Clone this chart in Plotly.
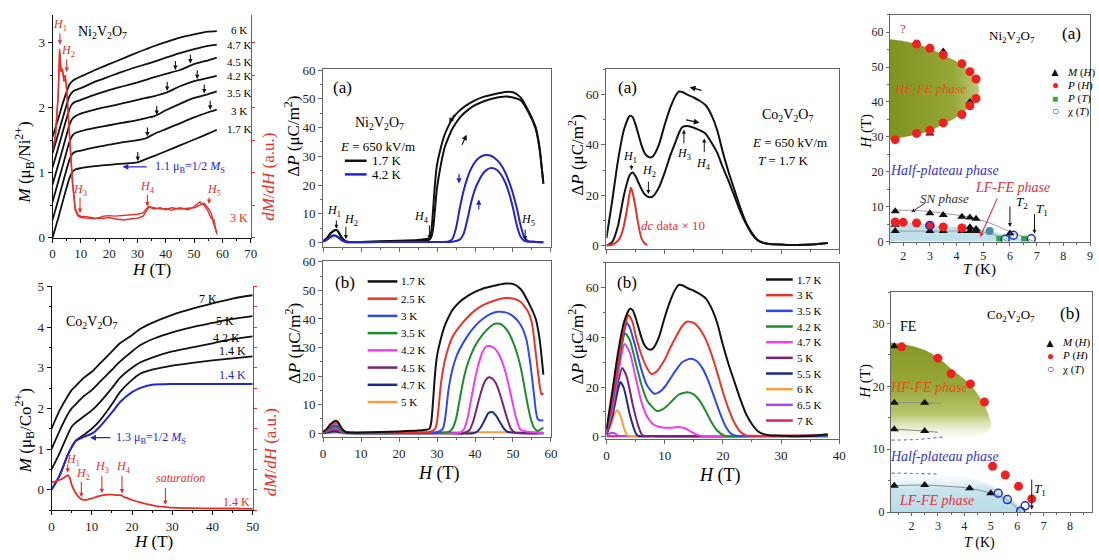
import plotly.graph_objects as go

W, HH = 1099, 560
FONT = "Liberation Serif"
RED = "#e5302a"
BLUE = "#2b2fc8"

# ====================== DATA ======================
# --- Ni2V2O7 M(H) ---
NI_M_H = [0, 2, 4, 6, 7, 8, 10, 15, 20, 25, 30, 33, 36, 40, 45, 50, 55, 58]
NI_M_17 = [0.00, 0.30, 0.62, 0.92, 1.01, 1.05, 1.07, 1.10, 1.12, 1.14, 1.16, 1.21, 1.26, 1.33, 1.42, 1.51, 1.60, 1.66]
NI_M_30 = [0.27, 0.58, 0.90, 1.20, 1.29, 1.32, 1.34, 1.39, 1.43, 1.47, 1.50, 1.53, 1.60, 1.67, 1.76, 1.85, 1.93, 1.97]
NI_M_35 = [0.55, 0.86, 1.17, 1.48, 1.57, 1.61, 1.64, 1.69, 1.73, 1.77, 1.81, 1.84, 1.87, 1.96, 2.06, 2.15, 2.21, 2.25]
NI_M_42 = [0.82, 1.12, 1.43, 1.74, 1.83, 1.87, 1.91, 1.97, 2.02, 2.07, 2.12, 2.15, 2.18, 2.23, 2.33, 2.41, 2.46, 2.49]
NI_M_45 = [1.08, 1.38, 1.69, 1.98, 2.06, 2.09, 2.12, 2.20, 2.27, 2.33, 2.39, 2.43, 2.47, 2.52, 2.58, 2.67, 2.73, 2.77]
NI_M_47 = [1.30, 1.60, 1.90, 2.18, 2.24, 2.27, 2.30, 2.40, 2.48, 2.56, 2.63, 2.67, 2.71, 2.77, 2.84, 2.90, 2.95, 2.97]
NI_M_60 = [1.55, 1.83, 2.12, 2.36, 2.41, 2.44, 2.48, 2.58, 2.67, 2.76, 2.85, 2.90, 2.95, 3.01, 3.08, 3.13, 3.17, 3.18]
NI_M_CURVES = [NI_M_17, NI_M_30, NI_M_35, NI_M_42, NI_M_45, NI_M_47, NI_M_60]
NI_M_LABELS = ["1.7 K", "3 K", "3.5 K", "4.2 K", "4.5 K", "4.7 K", "6 K"]
NI_M_LABEL_Y = [1.67, 1.95, 2.22, 2.49, 2.71, 2.97, 3.19]
NI_M_ARROW_H = [30.1, 33.5, 55.7, 36.8, 53.6, 40.5, 51.1, 43.4, 48.7]
NI_M_ARROW_M = [1.18, 1.56, 1.97, 1.89, 2.22, 2.26, 2.44, 2.58, 2.68]

NI_DMDH_H = [0, 1, 2, 2.5, 3, 3.5, 4, 4.5, 5, 5.5, 6, 7, 8, 9, 10, 12, 15, 18, 20, 22, 25, 28, 30, 32, 33, 34,
             36, 38, 40, 42, 45, 48, 50, 52, 53.5, 55, 56, 57, 58]
NI_DMDH_UP = [1.35, 1.55, 2.2, 2.9, 2.55, 2.6, 2.45, 2.5, 2.3, 2.0, 1.6, 0.9, 0.45, 0.35, 0.33, 0.32, 0.30, 0.30,
              0.31, 0.29, 0.27, 0.29, 0.30, 0.33, 0.40, 0.47, 0.44, 0.46, 0.43, 0.46, 0.44, 0.45, 0.46, 0.50, 0.53,
              0.45, 0.38, 0.20, 0.08]
NI_DMDH_DN = [1.35, 1.55, 2.2, 2.85, 2.6, 2.55, 2.4, 2.45, 2.25, 1.95, 1.55, 0.85, 0.42, 0.33, 0.31, 0.30, 0.29,
              0.33, 0.34, 0.33, 0.34, 0.35, 0.36, 0.38, 0.44, 0.48, 0.46, 0.44, 0.45, 0.42, 0.46, 0.43, 0.48, 0.55,
              0.50, 0.40, 0.30, 0.28, 0.05]

# --- Co2V2O7 M(H) ---
CO_M_H = [0, 2, 4, 5, 6, 8, 10, 12, 15, 17, 20, 22, 25, 30, 35, 40, 45, 50]
CO_M_14_BLUE = [0.0, 0.35, 0.85, 1.05, 1.2, 1.3, 1.38, 1.55, 1.9, 2.15, 2.4, 2.5, 2.58, 2.6, 2.6, 2.6, 2.6, 2.6]
CO_M_14 = [0.0, 0.35, 0.85, 1.05, 1.2, 1.35, 1.5, 1.7, 2.1, 2.4, 2.7, 2.85, 2.95, 3.05, 3.12, 3.18, 3.23, 3.28]
CO_M_42 = [0.5, 0.9, 1.35, 1.55, 1.65, 1.8, 1.95, 2.15, 2.5, 2.75, 3.0, 3.13, 3.25, 3.4, 3.5, 3.6, 3.7, 3.77]
CO_M_50 = [1.0, 1.45, 1.85, 2.0, 2.1, 2.3, 2.45, 2.65, 2.95, 3.15, 3.4, 3.55, 3.7, 3.87, 4.0, 4.1, 4.2, 4.27]
CO_M_70 = [1.5, 1.95, 2.3, 2.45, 2.55, 2.75, 2.9, 3.1, 3.4, 3.6, 3.8, 3.95, 4.1, 4.3, 4.45, 4.58, 4.7, 4.78]
CO_DMDH_H = [0, 2, 3, 4, 4.5, 5, 6, 7, 8, 9, 10, 11, 12, 13, 14, 15, 16, 17, 17.5, 18, 19, 20, 22, 24, 26, 28,
             30, 35, 40, 45, 50]
CO_DMDH = [0.18, 0.24, 0.29, 0.36, 0.30, 0.12, -0.08, -0.20, -0.25, -0.24, -0.21, -0.18, -0.15, -0.13, -0.12,
           -0.12, -0.13, -0.13, -0.14, -0.18, -0.21, -0.25, -0.31, -0.36, -0.40, -0.42, -0.44, -0.45, -0.46,
           -0.46, -0.47]

# --- Ni2V2O7 dP(H) (a) ---
NI_A_17_H = [0, 1, 2, 3, 3.5, 4, 5, 6, 8, 10, 15, 20, 25, 27, 28, 28.5, 29, 29.5, 30, 31, 32, 33, 34, 36, 38,
             40, 42, 45, 48, 50, 52, 54, 56, 57, 58]
NI_A_17_UP = [0.5, 1.5, 3.2, 4.2, 4.3, 3.8, 1.5, 0.4, 0.2, 0.2, 0.3, 0.4, 0.6, 0.8, 1.0, 2.0, 5, 12, 19, 27, 33,
              36.5, 39.5, 43.5, 46, 47.8, 49, 50.2, 50.8, 50.5, 49.5, 45.5, 39.5, 32.5, 20.5]
NI_A_17_DN = [0.5, 1.5, 3.2, 4.2, 4.3, 3.8, 1.5, 0.4, 0.2, 0.2, 0.4, 0.6, 0.9, 1.2, 1.5, 4, 12, 21, 27, 33, 37.5,
              40.5, 43, 46, 48, 49.5, 50.6, 51.6, 52.4, 52.3, 50.5, 46, 40, 33, 20.5]
NI_A_42_H = [0, 1, 2, 3, 4, 5, 6, 10, 20, 30, 33, 34, 35, 36, 37, 38, 39, 40, 41, 42, 43, 44, 45, 46, 47, 48,
             49, 50, 51, 52, 53, 54, 56, 58]
NI_A_42_UP = [0.3, 1, 2, 2.4, 1.8, 0.7, 0.2, 0.1, 0.2, 0.2, 0.2, 0.3, 0.5, 1, 3, 8, 14, 18.5, 21.5, 23.8, 25.2,
              25.9, 25.8, 25, 23.3, 20.8, 17, 12, 6, 2, 0.6, 0.3, 0.2, 0.1]
NI_A_42_DN = [0.3, 1, 2, 2.4, 1.8, 0.7, 0.2, 0.1, 0.2, 0.2, 0.4, 1.2, 5, 12, 18, 22.5, 25.8, 28, 29.4, 30.2,
              30.5, 30.3, 29.6, 28.4, 26.7, 24.3, 21, 17, 12, 6, 1.8, 0.5, 0.2, 0.1]

# --- Ni2V2O7 dP(H) (b) ---
NI_B_17_H = NI_A_17_H
NI_B_17 = NI_A_17_DN
NI_B_25_H = [0, 1, 2, 3, 3.5, 4, 5, 6, 10, 20, 28, 29.5, 30, 30.5, 31, 32, 33, 34, 36, 38, 40, 42, 45, 48, 50,
             52, 54, 55, 56, 57, 57.5, 58]
NI_B_25 = [0.3, 1.2, 2.6, 3.5, 3.6, 3.1, 1.4, 0.3, 0.1, 0.2, 0.4, 1.5, 4, 10, 17, 25, 30, 33.5, 37.5, 40.5, 43,
           44.8, 46.4, 47.3, 47.2, 46, 42.5, 38.5, 28, 17, 13.5, 14]
NI_B_30_H = [0, 1, 2, 3, 4, 5, 6, 10, 20, 30, 31.5, 32, 32.5, 33, 34, 35, 36, 38, 40, 42, 44, 46, 48, 50, 52,
             53.5, 54.5, 55.5, 56, 56.5, 57, 58]
NI_B_30 = [0.3, 1, 2, 2.8, 2.4, 1, 0.2, 0, 0.1, 0.3, 1.5, 4, 9, 15, 22, 26.5, 29.5, 34, 37.5, 40, 41.7, 42.5,
           42.3, 41, 38, 33, 25, 14, 8, 5, 4.5, 4.5]
NI_B_35_H = [0, 1, 2, 3, 4, 5, 6, 10, 20, 30, 33, 34, 35, 36, 37, 38, 40, 42, 44, 45.5, 47, 48.5, 50, 51.5,
             52.5, 53.5, 54.5, 55.5, 56.5, 57.5, 58]
NI_B_35 = [0.2, 0.8, 1.6, 2.2, 1.8, 0.7, 0.1, 0, 0, 0.1, 0.4, 1.5, 5, 12, 19, 24, 30.5, 34.5, 37.3, 38.4, 38,
           36, 32, 26, 20, 12.5, 6, 2, 0.8, 1.5, 2]
NI_B_42_H = [0, 1, 2, 3, 4, 5, 6, 10, 20, 30, 36, 37, 38, 39, 40, 41, 42, 43, 44, 45, 46, 47, 48, 49, 50, 51,
             52, 58]
NI_B_42 = [0.2, 0.7, 1.3, 1.7, 1.3, 0.5, 0.1, 0, 0, 0, 0.2, 1.2, 5, 12, 19, 24.5, 28.5, 30.4, 30.5, 29.8, 28.3,
           25.5, 21.5, 16, 10, 4.5, 1.2, 0]
NI_B_45_H = [0, 1, 2, 3, 4, 5, 6, 10, 30, 37, 38.5, 39.5, 40.5, 41.5, 42.5, 43.5, 44.5, 45.5, 46.5, 47.5, 48.5,
             49.5, 50.5, 58]
NI_B_45 = [0.1, 0.5, 0.9, 1.2, 0.9, 0.3, 0, 0, 0, 0, 1, 4, 9, 14, 17.8, 19.5, 19.2, 17.5, 14, 9.5, 5, 1.5, 0.2, 0]
NI_B_47_H = [0, 2, 3, 4, 6, 10, 30, 39.5, 40.5, 41.5, 42.5, 43.5, 44.5, 45.5, 46.5, 47.5, 48.5, 58]
NI_B_47 = [0, 0.4, 0.6, 0.4, 0, 0, 0, 0, 0.5, 2, 4.5, 7, 7.4, 6.2, 4, 1.8, 0.5, 0]
NI_B_50_H = [0, 10, 20, 30, 40, 50, 58]
NI_B_50 = [0.1, 0.3, 0.3, 0.4, 0.3, 0.3, 0.3]
NI_B_LABELS = ["1.7 K", "2.5 K", "3 K", "3.5 K", "4.2 K", "4.5 K", "4.7 K", "5 K"]
NI_B_COLORS = ["#111111", "#e8352b", "#2f49ee", "#1f8a2c", "#f23cf0", "#7b2277", "#1b2a8c", "#f5a040"]

# --- Co2V2O7 dP(H) (a) ---
CO_A_H = [0, 1, 2, 3, 4, 4.5, 5, 5.5, 6, 6.5, 7, 7.5, 8, 9, 10, 11, 12, 12.5, 13, 14, 15, 16, 17, 18, 19, 20, 21,
          22, 23, 24, 25, 26, 27, 28, 30, 32, 34, 36, 38]
CO_A_UP = [0, 1.5, 8, 20, 28, 29, 27.5, 25, 22.5, 20.5, 19.5, 19.2, 19.6, 23, 29, 36, 42, 45, 47, 47.5, 46.8,
           45.8, 44.5, 41, 37, 31, 25.5, 19.5, 13.5, 8.5, 4.5, 2, 1, 0.6, 0.4, 0.2, 0.3, 0.5, 1.0]
CO_A_DN = [3, 18, 34, 46, 51.5, 51, 48, 44, 40, 37, 35.5, 35, 35.5, 40, 48, 55, 60, 61.2, 61, 59.8, 58.8, 57.5,
           55.8, 52, 46, 37, 29, 22, 15, 9, 5, 2.2, 1, 0.6, 0.4, 0.2, 0.3, 0.5, 1.0]
CO_DC_H = [0, 1, 2, 2.5, 3, 3.5, 4, 4.2, 4.5, 5, 5.5, 6, 6.5, 7]
CO_DC = [0, 0.3, 2, 4, 8, 14, 21, 23, 21, 15, 8, 3, 1, 0.2]

# --- Co2V2O7 dP(H) (b) ---
CO_B_30_H = [0, 1, 2, 3, 3.8, 4.5, 5, 6, 7, 7.7, 8.5, 10, 11, 12, 13, 13.9, 15, 16, 17, 18, 19, 20, 21, 22, 23,
             24, 26, 30, 34, 38]
CO_B_30 = [2.5, 15, 30, 43, 49, 46, 41, 33, 27.5, 25.3, 26, 31, 36, 40.5, 44.5, 46.4, 45.8, 43.5, 39.5, 33.5, 26,
           18, 11, 5.5, 2, 0.5, 0.3, 0.4, 0.5, 0.8]
CO_B_35_H = [0, 1, 2, 3, 3.5, 4, 5, 6, 7, 8.2, 9, 10, 11, 12, 13, 14.4, 15.5, 16.5, 17.5, 18.5, 19.5, 20.5, 21.5,
             22.5, 26, 30, 38]
CO_B_35 = [2, 14, 29, 42, 45.8, 44, 36, 27, 20.5, 17.3, 17.8, 20, 23.5, 27, 30, 31.4, 30.5, 27.5, 22.5, 16, 9.5,
           4, 1, 0.3, 0.3, 0.3, 0.5]
CO_B_42_H = [0, 1, 2, 3.2, 4, 5, 6, 7, 8.6, 9.5, 10.5, 11.5, 12.5, 13.9, 15, 16, 17, 18, 19, 20.3, 25, 30, 38]
CO_B_42 = [2, 13, 28, 41.6, 39, 30, 21, 14.5, 10.4, 10.8, 12.5, 15, 17, 17.9, 17, 14.5, 10.5, 6, 2.5, 0.4, 0.3,
           0.3, 0.4]
CO_B_47_H = [0, 1, 2, 3.1, 4, 5, 6, 7, 8, 9, 10, 11, 12.3, 13.5, 14.5, 15.5, 16.5, 20, 30, 38]
CO_B_47 = [1.5, 11, 25, 37.3, 34, 24, 14, 8, 5, 4, 3.6, 3.6, 3.9, 3.4, 2, 0.8, 0.3, 0.3, 0.3, 0.3]
CO_B_50_H = [0, 1, 2, 2.7, 3.5, 4.5, 5.5, 6.2, 8, 20, 38]
CO_B_50 = [1, 9, 22, 27.7, 24, 13, 4, 0.5, 0.2, 0.2, 0.3]
CO_B_55_H = [0, 1, 1.8, 2.4, 3, 4, 5, 5.5, 8, 38]
CO_B_55 = [0.8, 8, 17, 22, 19.5, 9, 1.5, 0.3, 0.2, 0.2]
CO_B_60_H = [0, 0.7, 1.3, 1.8, 2.4, 3, 3.6, 5, 38]
CO_B_60 = [1, 4, 8.5, 10.6, 8.5, 3.5, 0.5, 0.2, 0.2]
CO_B_65_H = [0, 0.5, 1, 1.5, 2, 3, 38]
CO_B_65 = [0.5, 1.2, 1.6, 1.2, 0.4, 0.2, 0.2]
CO_B_70_H = [0, 10, 20, 30, 38]
CO_B_70 = [0.2, 0.2, 0.3, 0.3, 0.3]
CO_B_LABELS = ["1.7 K", "3 K", "3.5 K", "4.2 K", "4.7 K", "5 K", "5.5 K", "6 K", "6.5 K", "7 K"]
CO_B_COLORS = ["#111111", "#e8352b", "#2f49ee", "#1f8a2c", "#f23cf0", "#7b2277", "#1b2a8c", "#f5a040",
               "#a844f0", "#d8206e"]

# --- Ni2V2O7 phase diagram ---
NI_PH_RED_T = [1.7, 2.5, 3.0, 3.5, 4.2, 4.5, 4.73, 4.73, 4.5, 4.2, 3.5, 3.0, 2.5, 1.7, 2.0, 2.5, 3.0, 3.5, 4.2]
NI_PH_RED_H = [29.2, 31.0, 31.9, 34.0, 36.4, 38.9, 41.0, 46.6, 48.7, 51.0, 53.5, 55.4, 56.6, 5.6, 5.5, 5.3, 4.6,
               4.2, 3.9]
NI_PH_TRI_T = [1.7, 3.0, 3.5, 4.2, 4.5, 4.73, 1.7, 3.0, 3.5, 4.2, 4.5, 4.73, 1.7, 4.5, 4.73, 6.0, 3.0, 3.5, 4.5]
NI_PH_TRI_H = [8.7, 8.1, 7.6, 7.1, 6.9, 6.5, 3.0, 3.0, 3.0, 3.0, 3.0, 3.0, 4.8, 4.1, 3.6, 2.3, 31.0, 54.5, 40.0]
NI_PH_SQ_T = [5.6, 6.53]
NI_PH_SQ_H = [0.8, 0.8]
NI_PH_CHI_T = [5.82, 6.13, 6.8, 3.0]
NI_PH_CHI_H = [0.65, 1.8, 0.8, 4.6]
NI_PH_MIX_T = [5.24]
NI_PH_MIX_H = [3.0]
NI_HF_T = [1.5, 2.0, 2.5, 3.0, 3.5, 4.0, 4.4, 4.7, 4.85, 4.7, 4.4, 4.0, 3.5, 3.0, 2.5, 2.0, 1.5]
NI_HF_H = [58.0, 57.5, 56.6, 55.4, 53.5, 51.6, 49.2, 46.6, 43.5, 40.5, 38.0, 35.6, 33.6, 31.7, 30.7, 29.9, 29.2]
NI_LF_T = [1.5, 1.7, 2.5, 3.0, 3.5, 4.2, 4.8, 5.25, 5.6, 6.0, 6.4, 6.9, 6.9, 1.5]
NI_LF_H = [5.3, 5.5, 5.3, 4.8, 4.4, 4.1, 3.8, 3.1, 2.5, 1.6, 0.8, 0.0, 0.0, 0.0]
NI_SN_T = [1.7, 2.5, 3.0, 3.5, 4.2, 4.7, 5.2, 5.7, 6.0, 6.5, 6.9]
NI_SN_H = [9.0, 8.9, 8.6, 8.1, 7.4, 6.6, 5.4, 3.9, 2.8, 1.3, 0.0]
NI_LOW_T = [1.7, 3.0, 4.2, 4.73, 5.24, 5.6, 5.9]
NI_LOW_H = [3.0, 3.0, 3.0, 3.0, 2.4, 1.3, 0.0]

# --- Co2V2O7 phase diagram ---
CO_PH_RED_T = [1.63, 3.0, 3.5, 4.23, 4.76, 5.07, 5.55, 6.05, 6.55]
CO_PH_RED_H = [26.3, 24.5, 22.0, 20.4, 17.5, 7.3, 5.9, 4.1, 2.1]
CO_PH_TRI_T = [1.35, 1.35, 2.5, 1.35, 2.5, 1.35, 2.5, 4.2, 5.0]
CO_PH_TRI_H = [26.4, 17.4, 17.4, 13.2, 12.9, 4.2, 4.3, 3.8, 3.0]
CO_PH_CHI_T = [5.28, 5.63, 6.13, 6.3]
CO_PH_CHI_H = [3.0, 2.0, 0.15, 1.0]
CO_HF_T = [1.22, 1.7, 2.5, 3.0, 3.5, 4.2, 4.7, 4.95, 5.0, 4.6, 4.0, 3.0, 2.0, 1.22]
CO_HF_H = [27.0, 26.7, 25.8, 24.6, 22.8, 20.4, 17.5, 15.0, 13.5, 12.3, 11.8, 11.6, 11.4, 11.3]
CO_LF_T = [1.22, 3.0, 4.2, 5.0, 5.6, 6.1, 6.3, 1.22]
CO_LF_H = [7.0, 6.6, 5.6, 4.2, 2.6, 0.8, 0.0, 0.0]
CO_GREY1_T = [1.35, 2.5, 3.1]
CO_GREY1_H = [17.4, 17.4, 17.3]
CO_GREY2_T = [1.35, 2.5, 3.0]
CO_GREY2_H = [13.2, 12.9, 12.7]
CO_GREY3_T = [1.35, 2.5, 4.2, 5.0, 5.6, 6.15]
CO_GREY3_H = [4.2, 4.3, 3.8, 3.0, 2.0, 0.0]
CO_DOT1_T = [1.25, 2.2, 3.2]
CO_DOT1_H = [11.45, 11.55, 11.95]
CO_DOT2_T = [1.25, 2.2, 3.0]
CO_DOT2_H = [6.2, 6.15, 6.05]

# ====================== FIGURE ======================
fig = go.Figure()

# panel geometry in pixels: (left, right), (top, bottom)
PANELS = {
    1: dict(x=(50, 250), y=(8, 237), xr=[0, 70], yr=[0, 3.43], xd=10, yd=1, xl=True, box=False, lc="#111"),
    2: dict(x=(49, 252), y=(287, 517), xr=[0, 50], yr=[-0.5, 5], xd=10, yd=1, xl=True, box=False, lc="#111"),
    3: dict(x=(323, 553), y=(64, 247), xr=[0, 60], yr=[-1.7, 60.3], xd=10, yd=10, xl=False, box=True, lc="#666"),
    4: dict(x=(323, 553), y=(261, 442), xr=[0, 60], yr=[-1.4, 60.3], xd=10, yd=10, xl=True, box=True, lc="#666"),
    5: dict(x=(609, 844), y=(64, 249), xr=[0, 40], yr=[-1.5, 70], xd=10, yd=20, xl=False, box=True, lc="#666"),
    6: dict(x=(609, 844), y=(263, 444), xr=[0, 40], yr=[-1, 70], xd=10, yd=20, xl=True, box=True, lc="#666"),
    7: dict(x=(895, 1097), y=(8, 241), xr=[1.5, 9], yr=[0, 65], xd=1, yd=10, xl=True, box=True, lc="#666"),
    8: dict(x=(896, 1099), y=(293, 519), xr=[1.22, 8.83], yr=[0, 35], xd=1, yd=10, xl=True, box=True, lc="#666"),
}


def xn(i):
    return "x" if i == 1 else f"x{i}"


def yn(i):
    return "y" if i == 1 else f"y{i}"


def line(i, x, y, color, width=1.8, yaxis=None, dash=None, shape="spline"):
    fig.add_trace(go.Scatter(x=x, y=y, mode="lines",
                             line=dict(color=color, width=width, shape=shape, smoothing=0.6, dash=dash),
                             xaxis=xn(i), yaxis=yaxis or yn(i), showlegend=False, hoverinfo="skip"))


def markers(i, x, y, symbol, color, size=8, open_=False):
    m = dict(symbol=symbol, size=size, color=color)
    if open_:
        m = dict(symbol=symbol, size=size, color=color, line=dict(width=1.5, color=color))
    fig.add_trace(go.Scatter(x=x, y=y, mode="markers", marker=m, xaxis=xn(i), yaxis=yn(i),
                             showlegend=False, hoverinfo="skip"))


# ---- shaded phase regions ----
fig.add_trace(go.Scatter(x=NI_HF_T, y=NI_HF_H, mode="lines", fill="toself", line=dict(width=0, shape="spline"),
                         fillgradient=dict(type="horizontal", colorscale=[[0, "rgb(128,146,34)"], [0.7, "rgb(150,166,55)"], [1, "rgb(190,202,120)"]]),
                         xaxis="x7", yaxis="y7", showlegend=False, hoverinfo="skip"))
fig.add_trace(go.Scatter(x=NI_LF_T, y=NI_LF_H, mode="lines", fill="toself", line=dict(width=0),
                         fillcolor="rgb(192,224,236)", xaxis="x7", yaxis="y7", showlegend=False, hoverinfo="skip"))
fig.add_trace(go.Scatter(x=CO_HF_T, y=CO_HF_H, mode="lines", fill="toself", line=dict(width=0, shape="spline"),
                         fillgradient=dict(type="vertical", start=11.3, stop=27,
                                           colorscale=[[0, "rgba(255,255,255,0)"], [0.3, "rgb(185,198,110)"], [0.6, "rgb(150,166,55)"], [1, "rgb(135,152,40)"]]),
                         xaxis="x8", yaxis="y8", showlegend=False, hoverinfo="skip"))
fig.add_trace(go.Scatter(x=CO_LF_T, y=CO_LF_H, mode="lines", fill="toself", line=dict(width=0, shape="spline"),
                         fillgradient=dict(type="vertical", start=0, stop=7.5,
                                           colorscale=[[0, "rgb(180,218,232)"], [0.6, "rgb(200,228,238)"], [1, "rgba(255,255,255,0)"]]),
                         xaxis="x8", yaxis="y8", showlegend=False, hoverinfo="skip"))

# ---- panel 1: Ni M(H) ----
for c in NI_M_CURVES:
    line(1, NI_M_H, c, "#111", 1.8)
line(1, NI_DMDH_H, NI_DMDH_UP, RED, 1.5, yaxis="y9", shape="linear")
line(1, NI_DMDH_H, NI_DMDH_DN, RED, 1.3, yaxis="y9", shape="linear")

# ---- panel 2: Co M(H) ----
for c in [CO_M_14, CO_M_42, CO_M_50, CO_M_70]:
    line(2, CO_M_H, c, "#111", 1.8)
line(2, CO_M_H, CO_M_14_BLUE, "#2525d0", 2.0)
line(2, CO_DMDH_H, CO_DMDH, RED, 1.8, yaxis="y10")

# ---- panel 3: Ni dP (a) ----
line(3, NI_A_17_H, NI_A_17_UP, "#111", 2.0)
line(3, NI_A_17_H, NI_A_17_DN, "#111", 2.0)
line(3, NI_A_42_H, NI_A_42_UP, "#2424c8", 2.0)
line(3, NI_A_42_H, NI_A_42_DN, "#2424c8", 2.0)

# ---- panel 4: Ni dP (b) ----
NI_B_SETS = [(NI_B_17_H, NI_B_17), (NI_B_25_H, NI_B_25), (NI_B_30_H, NI_B_30), (NI_B_35_H, NI_B_35),
             (NI_B_42_H, NI_B_42), (NI_B_45_H, NI_B_45), (NI_B_47_H, NI_B_47), (NI_B_50_H, NI_B_50)]
for (hx, vy), col in reversed(list(zip(NI_B_SETS, NI_B_COLORS))):
    line(4, hx, vy, col, 2.0)

# ---- panel 5: Co dP (a) ----
line(5, CO_A_H, CO_A_UP, "#111", 2.0)
line(5, CO_A_H, CO_A_DN, "#111", 2.0)
line(5, CO_DC_H, CO_DC, RED, 2.0)

# ---- panel 6: Co dP (b) ----
CO_B_SETS = [(CO_A_H, CO_A_DN), (CO_B_30_H, CO_B_30), (CO_B_35_H, CO_B_35), (CO_B_42_H, CO_B_42),
             (CO_B_47_H, CO_B_47), (CO_B_50_H, CO_B_50), (CO_B_55_H, CO_B_55), (CO_B_60_H, CO_B_60),
             (CO_B_65_H, CO_B_65), (CO_B_70_H, CO_B_70)]
for (hx, vy), col in reversed(list(zip(CO_B_SETS, CO_B_COLORS))):
    line(6, hx, vy, col, 2.0)

# ---- panel 7: Ni phase diagram ----
line(7, NI_SN_T, NI_SN_H, "#9a9a9a", 1.0)
line(7, NI_LOW_T, NI_LOW_H, "#9a9a9a", 1.0)
markers(7, NI_PH_TRI_T, NI_PH_TRI_H, "triangle-up", "#111", 8)
markers(7, NI_PH_RED_T, NI_PH_RED_H, "circle", "#ee2020", 9)
markers(7, NI_PH_SQ_T, NI_PH_SQ_H, "square", "#2aa84a", 6)
markers(7, NI_PH_MIX_T, NI_PH_MIX_H, "circle", "#4a8aa0", 8)
markers(7, NI_PH_CHI_T, NI_PH_CHI_H, "circle-open", "#2030c0", 8, open_=True)

# ---- panel 8: Co phase diagram ----
line(8, CO_GREY1_T, CO_GREY1_H, "#8a8a8a", 1.0)
line(8, CO_GREY2_T, CO_GREY2_H, "#8a8a8a", 1.0)
line(8, CO_GREY3_T, CO_GREY3_H, "#8a8a8a", 1.0)
line(8, CO_DOT1_T, CO_DOT1_H, "#5050c0", 1.0, dash="dot")
line(8, CO_DOT2_T, CO_DOT2_H, "#5050c0", 1.0, dash="dot")
markers(8, CO_PH_TRI_T, CO_PH_TRI_H, "triangle-up", "#111", 8)
markers(8, CO_PH_RED_T, CO_PH_RED_H, "circle", "#ee2020", 9)
markers(8, CO_PH_CHI_T, CO_PH_CHI_H, "circle-open", "#2030c0", 8, open_=True)

# ====================== LAYOUT ======================
layout = dict(width=W, height=HH, margin=dict(l=0, r=0, t=0, b=0), paper_bgcolor="white",
              plot_bgcolor="rgba(0,0,0,0)", showlegend=False,
              font=dict(family=FONT, size=13, color="black"))

for i, p in PANELS.items():
    fs = 12 if i >= 7 else 13
    tl = 3 if i >= 7 else 4
    xa = dict(domain=[p["x"][0] / W, p["x"][1] / W], range=p["xr"], anchor=yn(i), dtick=p["xd"], tick0=0,
              showline=True, linecolor=p["lc"], linewidth=1, mirror=p["box"], ticks="outside", ticklen=tl,
              tickcolor=p["lc"], showgrid=False, zeroline=False, showticklabels=p["xl"],
              tickfont=dict(family=FONT, size=fs, color="#222"),
              minor=dict(ticks="outside", ticklen=2, dtick=p["xd"] / 2, tickcolor=p["lc"]))
    ya = dict(domain=[1 - p["y"][1] / HH, 1 - p["y"][0] / HH], range=p["yr"], anchor=xn(i), dtick=p["yd"],
              tick0=0, showline=True, linecolor=p["lc"], linewidth=1, mirror=p["box"], ticks="outside",
              ticklen=tl, tickcolor=p["lc"], showgrid=False, zeroline=False,
              tickfont=dict(family=FONT, size=fs, color="#222"),
              minor=dict(ticks="outside", ticklen=2, dtick=p["yd"] / 2, tickcolor=p["lc"]))
    layout["xaxis" if i == 1 else f"xaxis{i}"] = xa
    layout["yaxis" if i == 1 else f"yaxis{i}"] = ya

layout["yaxis9"] = dict(overlaying="y", side="right", anchor="x", range=PANELS[1]["yr"], showline=True,
                        linecolor=RED, linewidth=1.2, showticklabels=False, ticks="outside", ticklen=3,
                        tickcolor=RED, dtick=0.5, showgrid=False, zeroline=False)
layout["yaxis10"] = dict(overlaying="y2", side="right", anchor="x2", range=PANELS[2]["yr"], showline=True,
                         linecolor=RED, linewidth=1.2, showticklabels=False, ticks="outside", ticklen=3,
                         tickcolor=RED, dtick=0.5, showgrid=False, zeroline=False)

ann = []
shapes = []


def ptxt(x, y, text, size=13, color="black", xanchor="center", angle=0, yanchor="middle"):
    ann.append(dict(xref="paper", yref="paper", x=x / W, y=1 - y / HH, text=text, showarrow=False,
                    font=dict(family=FONT, size=size, color=color), xanchor=xanchor, yanchor=yanchor,
                    textangle=angle))


def dtxt(i, x, y, text, size=12, color="black", xanchor="center", yref=None):
    ann.append(dict(xref=xn(i), yref=yref or yn(i), x=x, y=y, text=text, showarrow=False,
                    font=dict(family=FONT, size=size, color=color), xanchor=xanchor, yanchor="middle"))


def darr(i, x0, y0, x1, y1, color="black", width=1.1, size=0.9, yref=None):
    r = yref or yn(i)
    ann.append(dict(xref=xn(i), yref=r, axref=xn(i), ayref=r, x=x1, y=y1, ax=x0, ay=y0, text="",
                    showarrow=True, arrowhead=2, arrowsize=size, arrowwidth=width, arrowcolor=color))


def leg_line(x0, x1, y, color, width=2.5):
    shapes.append(dict(type="line", xref="paper", yref="paper", x0=x0 / W, x1=x1 / W, y0=1 - y / HH,
                       y1=1 - y / HH, line=dict(color=color, width=width)))


# axis titles
ptxt(22, 160, "<i>M</i> (μ<sub>B</sub>/Ni<sup>2+</sup>)", 17, angle=-90)
ptxt(268, 175, "<i>dM</i>/<i>dH</i> (a.u.)", 17, RED, angle=-90)
ptxt(150, 270, "<i>H</i> (T)", 17)
ptxt(22, 435, "<i>M</i> (μ<sub>B</sub>/Co<sup>2+</sup>)", 17, angle=-90)
ptxt(270, 458, "<i>dM</i>/<i>dH</i> (a.u.)", 17, RED, angle=-90)
ptxt(152, 549, "<i>H</i> (T)", 17)
ptxt(292, 133, "Δ<i>P</i> (μC/m<sup>2</sup>)", 17, angle=-90)
ptxt(292, 346, "Δ<i>P</i> (μC/m<sup>2</sup>)", 17, angle=-90)
ptxt(440, 479, "<i>H</i> (T)", 18)
ptxt(578, 152, "Δ<i>P</i> (μC/m<sup>2</sup>)", 17, angle=-90)
ptxt(578, 346, "Δ<i>P</i> (μC/m<sup>2</sup>)", 17, angle=-90)
ptxt(723, 481, "<i>H</i> (T)", 18)
ptxt(871, 128, "<i>H</i> (T)", 15, angle=-90)
ptxt(985, 270, "<i>T</i> (K)", 15)
ptxt(871, 385, "<i>H</i> (T)", 15, angle=-90)
ptxt(985, 551, "<i>T</i> (K)", 14)

# ---- panel 1 annotations ----
dtxt(1, 17.5, 3.16, "Ni<sub>2</sub>V<sub>2</sub>O<sub>7</sub>", 14)
for lab, yy in zip(NI_M_LABELS, NI_M_LABEL_Y):
    dtxt(1, 66, yy, lab, 11)
dtxt(1, 66, 0.31, "3 K", 12, RED)
for hx, my in zip(NI_M_ARROW_H, NI_M_ARROW_M):
    darr(1, hx, my + 0.16, hx, my, "#111", 1.1, 0.8)
dtxt(1, 35.5, 1.09, "1.1 μ<sub>B</sub>=1/2 <i>M</i><sub>S</sub>", 12, "#2525d0", "left")
darr(1, 33.8, 1.09, 24.7, 1.09, "#2525d0", 1.3, 0.9)
for lab, tx, ty, ax0, ay0, ay1 in [("1", 2.6, 3.27, 2.6, 3.17, 2.97), ("2", 5.4, 2.87, 5.0, 2.77, 2.55),
                                   ("3", 9.7, 0.74, 9.7, 0.64, 0.38), ("4", 33.5, 0.78, 33.5, 0.68, 0.48),
                                   ("5", 57.0, 0.74, 55.3, 0.64, 0.52)]:
    dtxt(1, tx, ty, f"<i>H</i><sub>{lab}</sub>", 12, RED)
    darr(1, ax0, ay0, ax0, ay1, RED, 1.1, 0.8)

# ---- panel 2 annotations ----
dtxt(2, 10, 4.1, "Co<sub>2</sub>V<sub>2</sub>O<sub>7</sub>", 14)
for lab, hx, yy in [("7 K", 39, 4.68), ("5 K", 43, 4.15), ("4.2 K", 43.5, 3.72), ("1.4 K", 45, 3.42)]:
    dtxt(2, hx, yy, lab, 12)
dtxt(2, 45, 2.82, "1.4 K", 12, "#2525d0")
dtxt(2, 46, -0.3, "1.4 K", 12, RED)
dtxt(2, 15.5, 1.28, "1.3 μ<sub>B</sub>=1/2 <i>M</i><sub>S</sub>", 12, "#2525d0", "left")
darr(2, 15.0, 1.28, 9.6, 1.28, "#2525d0", 1.3, 0.9)
for lab, tx, ty, ax0, ay0, ay1 in [("<i>H</i><sub>1</sub>", 5.4, 0.74, 4.0, 0.66, 0.42),
                                   ("<i>H</i><sub>2</sub>", 7.9, 0.40, 7.4, 0.24, -0.18),
                                   ("<i>H</i><sub>3</sub>", 12.5, 0.55, 12.5, 0.38, -0.08),
                                   ("<i>H</i><sub>4</sub>", 17.8, 0.55, 17.5, 0.38, -0.09),
                                   ("<i>saturation</i>", 32.0, 0.3, 28.3, 0.08, -0.37)]:
    dtxt(2, tx, ty, lab, 12, RED)
    darr(2, ax0, ay0, ax0, ay1, RED, 1.1, 0.8, yref="y10")

# ---- panel 3 annotations ----
ptxt(343, 83, "(a)", 17)
ptxt(380, 120, "Ni<sub>2</sub>V<sub>2</sub>O<sub>7</sub>", 14)
ptxt(378, 143, "<i>E</i> = 650 kV/m", 13)
leg_line(345, 367, 158, "#111")
ptxt(370, 158, "1.7 K", 13, xanchor="left")
leg_line(345, 367, 172, "#2424c8")
ptxt(370, 172, "4.2 K", 13, xanchor="left")
darr(3, 34.8, 45.0, 33.2, 41.5, "#111", 1.2, 0.9)
darr(3, 36.4, 33.5, 37.8, 37.5, "#111", 1.2, 0.9)
darr(3, 35.8, 24.5, 35.8, 20.5, "#2424c8", 1.2, 0.9)
darr(3, 41.0, 11.0, 41.0, 15.0, "#2424c8", 1.2, 0.9)
for lab, tx, ty, ax0, ay0, ay1 in [("1", 2.8, 10.8, 3.5, 8.2, 4.8), ("2", 7.3, 7.8, 6.0, 6.0, 1.2),
                                   ("4", 26.0, 9.0, 28.0, 6.5, 1.2), ("5", 54.0, 7.8, 53.2, 5.0, 0.8)]:
    dtxt(3, tx, ty, f"<i>H</i><sub>{lab}</sub>", 12)
    darr(3, ax0, ay0, ax0, ay1, "#111", 1.0, 0.8)

# ---- panel 4 annotations ----
ptxt(345, 283, "(b)", 17)
for k, (lab, col) in enumerate(zip(NI_B_LABELS, NI_B_COLORS)):
    yy = 282 + k * 17.7
    leg_line(368, 398, yy, col)
    ptxt(400, yy, lab, 11, xanchor="left")

# ---- panel 5 annotations ----
ptxt(630, 83, "(a)", 17)
ptxt(792, 112, "Co<sub>2</sub>V<sub>2</sub>O<sub>7</sub>", 14)
ptxt(794, 139, "<i>E</i> = 650 kV/m", 13)
ptxt(788, 158, "<i>T</i> = 1.7 K", 13)
ptxt(676, 225, "<i>dc</i> data × 10", 13, RED)
darr(5, 16.6, 61.5, 14.3, 62.9, "#111", 1.3, 0.9)
darr(5, 13.4, 50.0, 16.0, 48.8, "#111", 1.3, 0.9)
for lab, tx, ty, ax0, ay0, ay1 in [("1", 4.0, 35.0, 4.3, 32.6, 30.0), ("2", 7.3, 29.5, 7.2, 26.0, 20.5)]:
    dtxt(5, tx, ty, f"<i>H</i><sub>{lab}</sub>", 12)
    darr(5, ax0, ay0, ax0, ay1, "#111", 1.0, 0.8)
for lab, tx, ty, ax0, ay0, ay1 in [("3", 13.3, 36.5, 13.3, 40.0, 46.0), ("4", 16.6, 32.5, 16.8, 36.5, 42.5)]:
    dtxt(5, tx, ty, f"<i>H</i><sub>{lab}</sub>", 12)
    darr(5, ax0, ay0, ax0, ay1, "#111", 1.0, 0.8)

# ---- panel 6 annotations ----
ptxt(630, 283, "(b)", 17)
for k, (lab, col) in enumerate(zip(CO_B_LABELS, CO_B_COLORS)):
    yy = 280 + k * 16.1
    leg_line(770, 797, yy, col)
    ptxt(799, yy, lab, 11, xanchor="left")

# ---- panel 7 annotations ----
ptxt(1018, 30, "Ni<sub>2</sub>V<sub>2</sub>O<sub>7</sub>", 13)
ptxt(1078, 27, "(a)", 17)
dtxt(7, 2.0, 61.0, "?", 13, RED)
dtxt(7, 3.0, 44.0, "<i>HF-FE phase</i>", 13, "#e0501e")
dtxt(7, 3.55, 20.5, "<i>Half-plateau phase</i>", 14, "#3535c8")
dtxt(7, 6.1, 15.5, "<i>LF-FE phase</i>", 14, "#e03040")
darr(7, 5.55, 12.8, 4.88, 1.3, "#e03040", 1.1, 0.8)
dtxt(7, 3.55, 12.4, "<i>SN phase</i>", 13, "#333")
darr(7, 2.9, 11.4, 2.3, 8.4, "#333", 1.0, 0.8)
dtxt(7, 6.45, 11.3, "<i>T</i><sub>2</sub>", 13)
darr(7, 6.0, 10.5, 6.0, 4.2, "#111", 1.0, 0.8)
dtxt(7, 7.2, 9.2, "<i>T</i><sub>1</sub>", 13)
darr(7, 6.92, 8.3, 6.92, 2.2, "#111", 1.0, 0.8)
for k, (sym, col, lab) in enumerate([("▲", "#111", "<i>M</i> (<i>H</i>)"), ("●", "#ee2020", "<i>P</i> (<i>H</i>)"),
                                     ("■", "#2aa84a", "<i>P</i> (<i>T</i>)"), ("○", "#2030c0", "χ (<i>T</i>)")]):
    yy = 67 + k * 13.3
    ptxt(1062, yy, sym, 10 if sym == "■" else 12, col)
    ptxt(1072, yy, lab, 11, xanchor="left")

# ---- panel 8 annotations ----
ptxt(1017, 317, "Co<sub>2</sub>V<sub>2</sub>O<sub>7</sub>", 13)
ptxt(1077, 315, "(b)", 17)
ptxt(913, 328, "FE", 14)
dtxt(8, 2.68, 19.8, "<i>HF-FE phase</i>", 14, "#e0501e")
dtxt(8, 3.24, 8.9, "<i>Half-plateau phase</i>", 14, "#3535c8")
dtxt(8, 2.93, 1.9, "<i>LF-FE phase</i>", 14, "#e03040")
dtxt(8, 6.85, 3.6, "<i>T</i><sub>1</sub>", 13)
darr(8, 6.55, 5.4, 6.55, 0.4, "#111", 1.0, 0.8)
for k, (sym, col, lab) in enumerate([("▲", "#111", "<i>M</i> (<i>H</i>)"), ("●", "#ee2020", "<i>P</i> (<i>H</i>)"),
                                     ("○", "#2030c0", "χ (<i>T</i>)")]):
    yy = 345 + k * 13.5
    ptxt(1057, yy, sym, 12, col)
    ptxt(1067, yy, lab, 11, xanchor="left")

layout["annotations"] = ann
layout["shapes"] = shapes
fig.update_layout(**layout)
fig.write_html("out.html")
